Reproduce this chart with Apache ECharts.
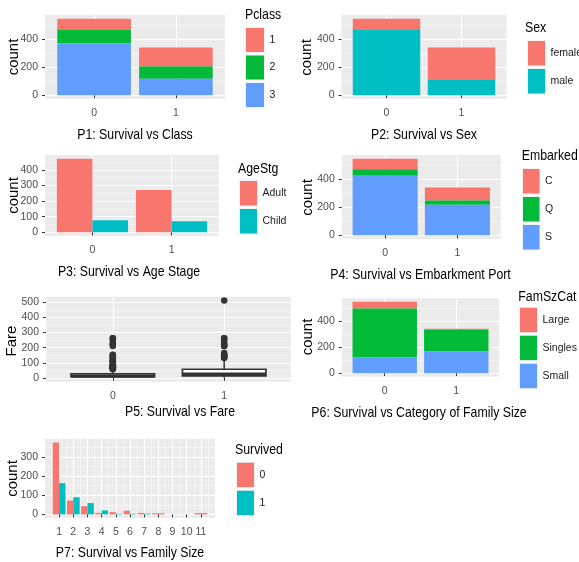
<!DOCTYPE html>
<html><head><meta charset="utf-8">
<script src="https://cdn.jsdelivr.net/npm/echarts@6/dist/echarts.min.js"></script>
<style>html,body{margin:0;padding:0;background:#fff}#c{width:579px;height:562px}</style>
</head><body><div id="c"></div>
<script>
// ---------------- data ----------------
const survivedLabels = ['0', '1'];

const pclassLevels = ['1', '2', '3'];
const pclassDied = [80, 97, 372];
const pclassSurv = [136, 87, 119];

const sexLevels = ['female', 'male'];
const sexDied = [81, 468];
const sexSurv = [233, 109];

const ageLevels = ['Adult', 'Child'];
const ageDied = [472, 77];
const ageSurv = [271, 71];

const embLevels = ['C', 'Q', 'S'];
const embDied = [75, 47, 427];
const embSurv = [93, 30, 219];

// boxplot stats: [min, Q1, median, Q3, max (upper whisker)]
const fareBoxDied = [0, 7.9, 10.5, 26, 52];
const fareBoxSurv = [0, 12.5, 26, 57, 120];
const fareOutDied = [56.5, 61.2, 61.4, 62, 63.4, 66.6, 69.55, 71, 71.3, 73.5, 77.3, 78, 79.2, 79.65, 82.2, 83.2, 83.5, 90, 106.4, 108.9, 110.9, 113.3, 120, 133.65, 135.6, 146.5, 151.55, 153.5, 211.5, 221.8, 227.5, 247.5, 262.4, 263];
const fareOutSurv = [133.65, 134.5, 135.6, 146.5, 151.55, 153.5, 164.9, 211.3, 211.5, 221.8, 227.5, 247.5, 262.4, 263, 512.3];

const famCatLevels = ['Large', 'Singles', 'Small'];
const famCatDied = [52, 374, 123];
const famCatSurv = [10, 163, 169];

const famSizeLabels = ['1', '2', '3', '4', '5', '6', '7', '8', '9', '10', '11'];
const famSizeDied = [374, 72, 43, 8, 12, 19, 8, 6, 0, 0, 7];
const famSizeSurv = [163, 89, 59, 21, 3, 3, 4, 0, 0, 0, 0];

// ---------------- styling ----------------
const FONT = "'Liberation Sans', Arial, sans-serif";
const COL3 = ['#F8766D', '#00BA38', '#619CFF'];
const COL2 = ['#F8766D', '#00BFC4'];

const grids = [], xAxis = [], yAxis = [], series = [], legend = [], graphic = [];

function expand(lo, hi) { const p = (hi - lo) * 0.05; return [lo - p, hi + p]; }

function addPanel(p) {
  const gi = grids.length;
  grids.push({left: p.rect[0], top: p.rect[1], width: p.rect[2], height: p.rect[3],
    show: true, backgroundColor: '#EBEBEB', borderWidth: 0});
  const xi = xAxis.length;
  xAxis.push({gridIndex: gi, type: 'value', position: 'bottom', min: p.xRange[0], max: p.xRange[1],
    axisLine: {show: false},
    axisTick: {show: true, customValues: p.xTicks, length: 3, lineStyle: {color: '#333333', width: 1}},
    axisLabel: {show: true, customValues: p.xTicks, formatter: p.xLabel, margin: 9,
      color: '#4D4D4D', fontFamily: FONT, fontSize: 10.5},
    splitLine: {show: true, lineStyle: {color: '#FFFFFF', width: 1.1}}});
  if (p.xMinor) {
    xAxis.push({gridIndex: gi, type: 'value', position: 'top', min: p.xRange[0], max: p.xRange[1],
      axisLine: {show: false}, axisTick: {show: false, customValues: p.xMinor}, axisLabel: {show: false},
      splitLine: {show: true, lineStyle: {color: '#FFFFFF', width: 0.5}}});
  }
  const yi = yAxis.length;
  yAxis.push({gridIndex: gi, type: 'value', position: 'left', min: p.yRange[0], max: p.yRange[1],
    axisLine: {show: false},
    axisTick: {show: true, customValues: p.yMajor, length: 3, lineStyle: {color: '#333333', width: 1}},
    axisLabel: {show: true, customValues: p.yMajor, margin: 7, color: '#4D4D4D', fontFamily: FONT, fontSize: 10.5},
    splitLine: {show: true, lineStyle: {color: '#FFFFFF', width: 1.1}}});
  yAxis.push({gridIndex: gi, type: 'value', position: 'right', min: p.yRange[0], max: p.yRange[1],
    axisLine: {show: false}, axisTick: {show: false, customValues: p.yMinor}, axisLabel: {show: false},
    splitLine: {show: true, lineStyle: {color: '#FFFFFF', width: 0.5}}});
  return {xi: xi, yi: yi};
}

function barRender(params, api) {
  const x = api.value(0), y0 = api.value(1), y1 = api.value(2), w = api.value(3);
  const a = api.coord([x - w / 2, y1]);
  const b = api.coord([x + w / 2, y0]);
  return {type: 'rect', shape: {x: a[0], y: a[1], width: b[0] - a[0], height: b[1] - a[1]}, style: api.style()};
}

function barSeries(name, color, ax, items) {
  return {type: 'custom', name: name, xAxisIndex: ax.xi, yAxisIndex: ax.yi, silent: true,
    itemStyle: {color: color}, data: items, encode: {x: 0, y: [1, 2]}, renderItem: barRender, z: 3};
}

function addStacked(ax, prefix, levels, colors, byCat, width) {
  levels.forEach(function (lv, li) {
    const items = byCat.map(function (vals, ci) {
      let base = 0;
      for (let k = levels.length - 1; k > li; k--) base += vals[k];
      return [ci + 1, base, base + vals[li], width];
    });
    series.push(barSeries(prefix + '|' + lv, colors[li], ax, items));
  });
}

function addLegend(prefix, levels, pos) {
  legend.push({show: true, orient: 'vertical', left: pos[0], top: pos[1], padding: 0,
    itemWidth: pos[2], itemHeight: pos[3], itemGap: 1.5, icon: 'rect', selectedMode: false,
    data: levels.map(function (l) { return prefix + '|' + l; }),
    formatter: function (n) { return n.split('|')[1]; },
    itemStyle: {borderColor: '#F2F2F2', borderWidth: 1},
    textStyle: {fontFamily: FONT, fontSize: 10.5, color: '#1A1A1A'}});
}

// horizontally condensed text (the reference is squeezed horizontally)
function addText(txt, x, y, opts) {
  opts = opts || {};
  graphic.push({type: 'text', x: x, y: y, rotation: opts.rot || 0, silent: true,
    scaleX: opts.rot ? 1 : 0.82,
    style: {text: txt, fill: '#000000', font: (opts.size || 15) + 'px ' + FONT,
      textAlign: opts.align || 'center', textVerticalAlign: 'middle'}});
}

const catX = [1, 2];
const catLabel = function (v) { return survivedLabels[Math.round(v) - 1]; };
const discX = [0.4, 2.6];
const cntMax = Math.max(pclassDied.reduce((a, b) => a + b, 0), pclassSurv.reduce((a, b) => a + b, 0));
const cntRange = expand(0, cntMax);

// ---------- P1 ----------
let ax = addPanel({rect: [45, 15, 180, 84], xRange: discX, xTicks: catX, xLabel: catLabel,
  yRange: cntRange, yMajor: [0, 200, 400], yMinor: [100, 300, 500]});
addStacked(ax, 'Pclass', pclassLevels, COL3, [pclassDied, pclassSurv], 0.9);
addLegend('Pclass', pclassLevels, [245, 27, 19, 25]);
addText('Pclass', 245, 15.3, {align: 'left'});
addText('P1: Survival vs Class', 135, 134.5);
addText('count', 13.5, 57, {rot: Math.PI / 2});

// ---------- P2 ----------
ax = addPanel({rect: [341.5, 15, 165, 84], xRange: discX, xTicks: catX, xLabel: catLabel,
  yRange: cntRange, yMajor: [0, 200, 400], yMinor: [100, 300, 500]});
addStacked(ax, 'Sex', sexLevels, COL2, [sexDied, sexSurv], 0.9);
addLegend('Sex', sexLevels, [527, 40, 18, 25.5]);
addText('Sex', 525, 28, {align: 'left'});
addText('P2: Survival vs Sex', 424, 135);
addText('count', 306.7, 57.5, {rot: Math.PI / 2});

// ---------- P3 ----------
const ageMax = Math.max.apply(null, ageDied.concat(ageSurv));
ax = addPanel({rect: [45, 155, 174, 81], xRange: discX, xTicks: catX, xLabel: catLabel,
  yRange: expand(0, ageMax), yMajor: [0, 100, 200, 300, 400], yMinor: [50, 150, 250, 350, 450]});
ageLevels.forEach(function (lv, li) {
  const off = (li - 0.5) * 0.45;
  const items = [ageDied, ageSurv].map(function (vals, ci) { return [ci + 1 + off, 0, vals[li], 0.45]; });
  series.push(barSeries('AgeStg|' + lv, COL2[li], ax, items));
});
addLegend('AgeStg', ageLevels, [239, 180, 18, 25.5]);
addText('AgeStg', 238, 169, {align: 'left'});
addText('P3: Survival vs Age Stage', 129, 271.5);
addText('count', 13.5, 195.5, {rot: Math.PI / 2});

// ---------- P4 ----------
ax = addPanel({rect: [341.8, 155, 159, 84], xRange: discX, xTicks: catX, xLabel: catLabel,
  yRange: cntRange, yMajor: [0, 200, 400], yMinor: [100, 300, 500]});
addStacked(ax, 'Embarked', embLevels, COL3, [embDied, embSurv], 0.9);
addLegend('Embarked', embLevels, [522, 168, 17.5, 25.5]);
addText('Embarked', 521.7, 156, {align: 'left'});
addText('P4: Survival vs Embarkment Port', 420.5, 275);
addText('count', 308, 197.5, {rot: Math.PI / 2});

// ---------- P5 ----------
const fareMax = Math.max.apply(null, fareOutDied.concat(fareOutSurv));
ax = addPanel({rect: [46, 296.7, 245, 85], xRange: discX, xTicks: catX, xLabel: catLabel,
  yRange: expand(0, fareMax), yMajor: [0, 100, 200, 300, 400, 500], yMinor: [50, 150, 250, 350, 450]});
series.push({type: 'custom', name: 'fareBox', xAxisIndex: ax.xi, yAxisIndex: ax.yi, silent: true, z: 3,
  data: [fareBoxDied, fareBoxSurv].map(function (s, i) { return [i + 1].concat(s).concat([0.75]); }),
  encode: {x: 0, y: [1, 2, 3, 4, 5]},
  renderItem: function (params, api) {
    const x = api.value(0), w = api.value(6);
    const mn = api.value(1), q1 = api.value(2), md = api.value(3), q3 = api.value(4), mx = api.value(5);
    const c = function (xx, v) { return api.coord([xx, v]); };
    const st = {stroke: '#333333', lineWidth: 1.5, fill: null};
    const tl = c(x - w / 2, q3), br = c(x + w / 2, q1);
    const m1 = c(x - w / 2, md), m2 = c(x + w / 2, md);
    return {type: 'group', children: [
      {type: 'line', shape: {x1: c(x, q3)[0], y1: c(x, q3)[1], x2: c(x, mx)[0], y2: c(x, mx)[1]}, style: st},
      {type: 'line', shape: {x1: c(x, mn)[0], y1: c(x, mn)[1], x2: c(x, q1)[0], y2: c(x, q1)[1]}, style: st},
      {type: 'rect', shape: {x: tl[0], y: tl[1], width: br[0] - tl[0], height: br[1] - tl[1]},
        style: {fill: '#FFFFFF', stroke: '#333333', lineWidth: 1.7}},
      {type: 'line', shape: {x1: m1[0], y1: m1[1], x2: m2[0], y2: m2[1]}, style: {stroke: '#333333', lineWidth: 2.8}}
    ]};
  }});
series.push({type: 'scatter', name: 'fareOut', xAxisIndex: ax.xi, yAxisIndex: ax.yi, silent: true, z: 4,
  symbol: 'circle', symbolSize: 6.5, itemStyle: {color: '#333333', opacity: 1},
  data: fareOutDied.map(function (v) { return [1, v]; }).concat(fareOutSurv.map(function (v) { return [2, v]; }))});
addText('P5: Survival vs Fare', 180, 411.7);
addText('Fare', 12, 341, {rot: Math.PI / 2});

// ---------- P6 ----------
ax = addPanel({rect: [341.8, 298.3, 157.4, 78.4], xRange: discX, xTicks: catX, xLabel: catLabel,
  yRange: cntRange, yMajor: [0, 200, 400], yMinor: [100, 300, 500]});
addStacked(ax, 'FamSzCat', famCatLevels, COL3, [famCatDied, famCatSurv], 0.9);
addLegend('FamSzCat', famCatLevels, [519, 306.7, 18, 25.5]);
addText('FamSzCat', 518.3, 296.7, {align: 'left'});
addText('P6: Survival vs Category of Family Size', 419, 413.3);
addText('count', 308.3, 337, {rot: Math.PI / 2});

// ---------- P7 ----------
const famX = famSizeLabels.map(Number);
const famXRange = expand(famX[0] - 0.45, famX[famX.length - 1] + 0.45);
const famXMinor = [famX[0] - 0.5].concat(famX.map(function (v) { return v + 0.5; }));
const famMax = Math.max.apply(null, famSizeDied.concat(famSizeSurv));
ax = addPanel({rect: [45, 439, 170, 79], xRange: famXRange, xTicks: famX,
  xLabel: function (v) { return famSizeLabels[Math.round(v) - 1]; }, xMinor: famXMinor,
  yRange: expand(0, famMax), yMajor: [0, 100, 200, 300], yMinor: [50, 150, 250, 350]});
const famGroups = [famSizeDied, famSizeSurv];
famGroups.forEach(function (vals, gi) {
  const items = [];
  famX.forEach(function (xv, k) {
    if (!(vals[k] > 0)) return;
    const both = famSizeDied[k] > 0 && famSizeSurv[k] > 0;
    const w = both ? 0.45 : 0.9;
    const off = both ? (gi - 0.5) * 0.45 : 0;
    items.push([xv + off, 0, vals[k], w]);
  });
  series.push(barSeries('Survived|' + survivedLabels[gi], COL2[gi], ax, items));
});
addLegend('Survived', survivedLabels, [236, 461.7, 18, 25.5]);
addText('Survived', 235, 450, {align: 'left'});
addText('P7: Survival vs Family Size', 130, 553.3);
addText('count', 13.3, 478.5, {rot: Math.PI / 2});

const chart = echarts.init(document.getElementById('c'), null, {renderer: 'canvas'});
chart.setOption({animation: false, backgroundColor: '#FFFFFF', tooltip: {show: false},
  grid: grids, xAxis: xAxis, yAxis: yAxis, series: series, legend: legend, graphic: graphic});
</script></body></html>
